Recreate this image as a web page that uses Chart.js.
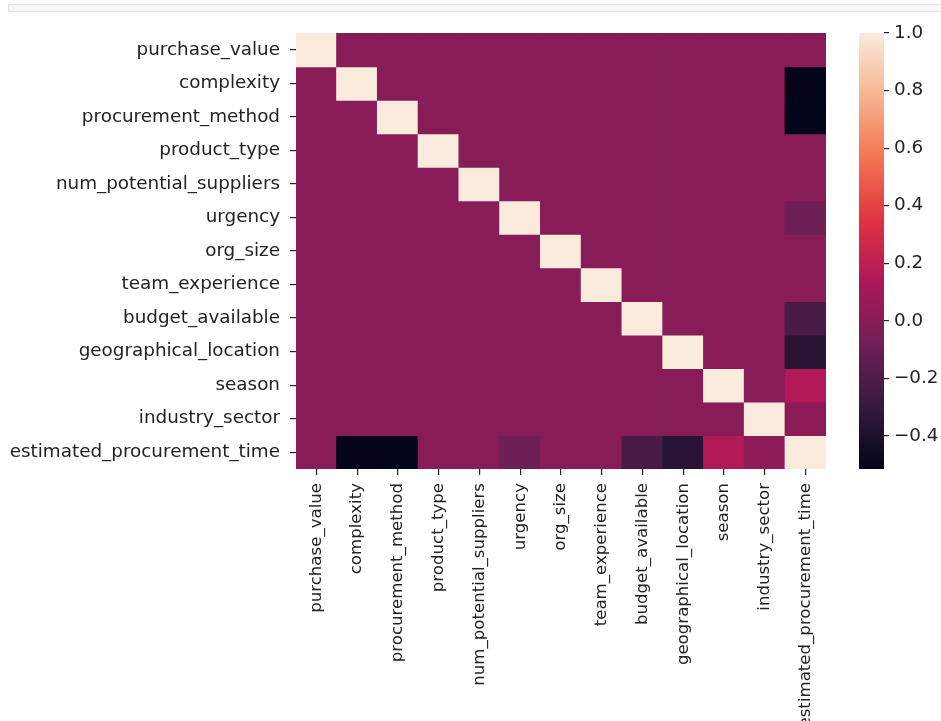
<!DOCTYPE html>
<html>
<head>
<meta charset="utf-8">
<script src="https://cdn.jsdelivr.net/npm/chart.js@4.4.1/dist/chart.umd.min.js"></script>
<style>
  html, body { margin: 0; padding: 0; background: #ffffff; }
  #wrap { position: relative; width: 941px; height: 721px; overflow: hidden; background: #ffffff; }
  #cellbar { position: absolute; left: 8px; top: 4px; width: 940px; height: 6px;
             background: #f6f6f6; border: 1px solid #e1e1e1; border-radius: 2px; }
  canvas { position: absolute; left: 0; top: 0; }
</style>
</head>
<body>
<div id="wrap">
  <div id="cellbar"></div>
  <canvas id="heat" width="941" height="721"></canvas>
  <canvas id="cbar" width="941" height="721"></canvas>
</div>
<script>
// Feature names (rows and columns of the correlation matrix)
const features = [
  'purchase_value', 'complexity', 'procurement_method', 'product_type',
  'num_potential_suppliers', 'urgency', 'org_size', 'team_experience',
  'budget_available', 'geographical_location', 'season', 'industry_sector',
  'estimated_procurement_time'
];

// Correlation of every feature with estimated_procurement_time
const targetCorr = [0.00, -0.51, -0.515, 0.00, 0.00, -0.09, 0.00, 0.00, -0.22, -0.35, 0.15, 0.02, 1.00];

// Correlation between two different input features
const featureCorr = 0.00;

// Colour bar tick values
const cbarTicks = [-0.4, -0.2, 0.0, 0.2, 0.4, 0.6, 0.8, 1.0];

// seaborn "rocket" colour map stops
const rocketStops = [
  [0, '#03051a'], [1 / 7, '#35193e'], [2 / 7, '#701f57'], [3 / 7, '#ad1759'],
  [4 / 7, '#e13342'], [5 / 7, '#f37651'], [6 / 7, '#f6b48f'], [1, '#faebdd']
];

const last = features.length - 1;
const matrix = features.map((_, i) => features.map((__, j) => {
  if (i === j) return 1;
  if (i === last) return targetCorr[j];
  if (j === last) return targetCorr[i];
  return featureCorr;
}));
const flat = matrix.flat();
const vmin = Math.min(...flat);
const vmax = Math.max(...flat);

function hexToRgb(h) {
  return [parseInt(h.slice(1, 3), 16), parseInt(h.slice(3, 5), 16), parseInt(h.slice(5, 7), 16)];
}
function rocket(t) {
  t = Math.max(0, Math.min(1, t));
  for (let k = 1; k < rocketStops.length; k++) {
    const [p1, c1] = rocketStops[k];
    const [p0, c0] = rocketStops[k - 1];
    if (t <= p1) {
      const f = (t - p0) / (p1 - p0);
      const a = hexToRgb(c0), b = hexToRgb(c1);
      const c = a.map((x, n) => Math.round(x + (b[n] - x) * f));
      return `rgb(${c[0]},${c[1]},${c[2]})`;
    }
  }
  return rocketStops[rocketStops.length - 1][1];
}
const colorOf = v => rocket((v - vmin) / (vmax - vmin));

const family = "'DejaVu Sans', sans-serif";
const fontH = { family, size: 18.35 };   // horizontal labels
const fontV = { family, size: 16.6 };    // rotated column labels
const textColor = '#222222';
const tickColor = '#222222';

// Heatmap: one stacked bar segment per cell, one dataset per row
new Chart(document.getElementById('heat'), {
  type: 'bar',
  data: {
    labels: features,
    datasets: matrix.map((row, i) => ({
      label: features[i],
      data: row.map(() => 1),
      backgroundColor: row.map(colorOf),
      borderWidth: 0,
      inflateAmount: 0.6,
      categoryPercentage: 1,
      barPercentage: 1
    }))
  },
  options: {
    responsive: false,
    animation: false,
    events: [],
    layout: { padding: { top: 33, right: 115, left: 0, bottom: 0 } },
    plugins: { legend: { display: false }, tooltip: { enabled: false } },
    scales: {
      x: {
        stacked: true,
        border: { display: false },
        grid: { offset: false, drawOnChartArea: false, tickLength: 6, color: tickColor, lineWidth: 1.2 },
        ticks: { autoSkip: false, minRotation: 90, maxRotation: 90, padding: 8, color: textColor, font: fontV },
        afterFit: s => { s.height = 252; }
      },
      y: {
        type: 'linear',
        stacked: true,
        reverse: true,
        min: 0,
        max: features.length,
        border: { display: false },
        grid: { drawOnChartArea: false, tickLength: 6, color: tickColor, lineWidth: 1.2 },
        afterBuildTicks: s => { s.ticks = features.map((_, i) => ({ value: i + 0.5 })); },
        ticks: { autoSkip: false, padding: 10, color: textColor, font: fontH, callback: (v, i) => features[i] },
        afterFit: s => { s.width = 296; }
      }
    }
  }
});

// Colour bar: a single floating bar spanning the data range, filled with the colour map
new Chart(document.getElementById('cbar'), {
  type: 'bar',
  data: {
    labels: ['corr'],
    datasets: [{
      data: [[vmin, vmax]],
      borderWidth: 0,
      borderSkipped: false,
      categoryPercentage: 1,
      barPercentage: 1,
      backgroundColor: ctx => {
        const chart = ctx.chart;
        if (!chart.chartArea) return null;
        const y = chart.scales.y;
        const g = chart.ctx.createLinearGradient(0, y.getPixelForValue(vmin), 0, y.getPixelForValue(vmax));
        rocketStops.forEach(([p, c]) => g.addColorStop(p, c));
        return g;
      }
    }]
  },
  options: {
    responsive: false,
    animation: false,
    events: [],
    layout: { padding: { top: 33, right: 0, left: 859, bottom: 252 } },
    plugins: { legend: { display: false }, tooltip: { enabled: false } },
    scales: {
      x: { display: false },
      y: {
        position: 'right',
        min: vmin,
        max: vmax,
        border: { display: false },
        grid: { drawOnChartArea: false, tickLength: 5, color: tickColor, lineWidth: 1.2 },
        afterBuildTicks: s => { s.ticks = cbarTicks.map(v => ({ value: v })); },
        ticks: {
          autoSkip: false, padding: 5, color: textColor, font: fontH,
          callback: v => v.toFixed(1).replace('-', '\u2212')
        },
        afterFit: s => { s.width = 57; }
      }
    }
  }
});
</script>
</body>
</html>
